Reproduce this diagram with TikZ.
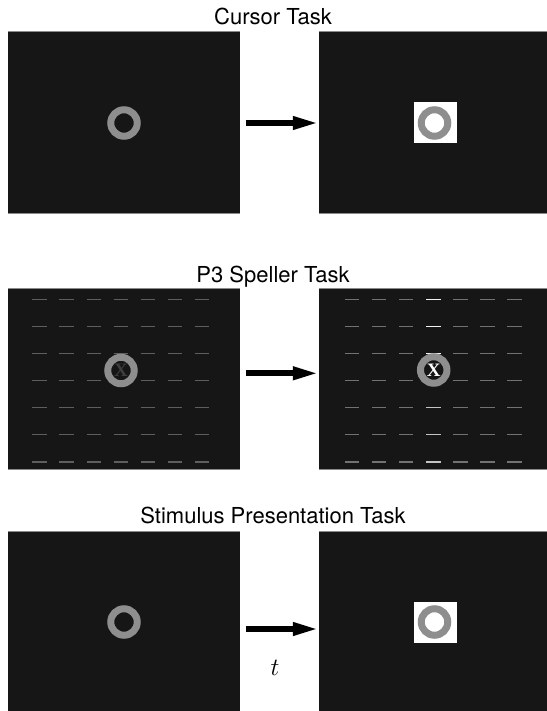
\documentclass[tikz,border=0pt]{standalone}
\usepackage{fontspec}
\setmainfont{TeX Gyre Heros}
\newfontfamily\serifx{Liberation Serif}
\usetikzlibrary{arrows.meta}
\definecolor{screen}{HTML}{161616}
\definecolor{rimgray}{HTML}{8A8A8A}
\definecolor{ringgray}{HTML}{8E8E8E}
\definecolor{cellgray}{HTML}{5E5E5E}
\definecolor{cellgrayb}{HTML}{727272}
\definecolor{cellhi}{HTML}{F2F2F2}
\definecolor{cellmid}{HTML}{C4C4C4}
\definecolor{xdim}{HTML}{3E3E3E}
\tikzset{
  screenbox/.style={fill=screen, draw=none, inner sep=0pt,
    minimum width=232pt, minimum height=181pt},
  rim/.style={draw=rimgray, line width=0.7pt},
  tasktitle/.style={anchor=base, inner sep=0pt, font=\fontsize{22}{26}\selectfont},
  ringmark/.style={circle, draw=ringgray, line width=7pt, inner sep=0pt,
    minimum size=26.5pt, fill=screen},
  flashbox/.style={fill=white, draw=none, inner sep=0pt,
    minimum width=43pt, minimum height=41pt},
  bigarrow/.style={draw=black, line width=5.7pt,
    -{Triangle[length=23pt,width=14.4pt,line width=0pt]}},
  cell/.style={line width=1.6pt},
  letterx/.style={inner sep=0pt, font=\serifx\bfseries\fontsize{19}{19}\selectfont},
  timelabel/.style={anchor=base, inner sep=0pt, font=\fontsize{30}{34}\selectfont}
}
\begin{document}
\begin{tikzpicture}[x=1pt,y=-1pt]
\useasboundingbox (0,0) rectangle (546,711);
\fill[white] (0,0) rectangle (546,711);

% ---------- Cursor task ----------
\node[tasktitle] (title1) at (273,25) {Cursor Task};
\node[screenbox] (c1) at (124,122.5) {};
\node[screenbox] (c2) at (435,122.5) {};
\foreach \p in {c1,c2} {
  \draw[rim] (\p.north west) -- (\p.north east);
  \draw[rim] (\p.south west) -- (\p.south east);
}
\node[ringmark] (cr1) at (124,123) {};
\node[flashbox] (cf2) at (435,122.8) {};
\node[ringmark, fill=white] (cr2) at (434.5,123) {};
\draw[bigarrow] ([xshift=5.5pt,yshift=-0.5pt]c1.east) -- ([xshift=-3pt,yshift=-0.5pt]c2.west);

% ---------- P3 speller task ----------
\node[tasktitle] (title2) at (273,282) {P3 Speller Task};
\node[screenbox] (s1) at (124,379) {};
\node[screenbox] (s2) at (435,379) {};
\foreach \p in {s1,s2} {
  \draw[rim] (\p.north west) -- (\p.north east);
  \draw[rim] (\p.south west) -- (\p.south east);
}
% grid of dashes, left screen
\foreach \i in {0,...,6}
  \foreach \j in {0,...,6}
    \draw[cell, cellgray] (39.5+27.1*\i-7.2, 299.3+27.07*\j) -- ++(14.4,0);
% grid of dashes, right screen with one column flashed
\foreach \i in {0,1,2,4,5,6}
  \foreach \j in {0,...,6}
    \draw[cell, cellgrayb] (352+27.1*\i-7.2, 299.3+27.07*\j) -- ++(14.4,0);
\foreach \j in {0,1,2}
  \draw[cell, cellhi] (433.3-7.2, 299.3+27.07*\j) -- ++(14.4,0);
\foreach \j in {4,5,6}
  \draw[cell, cellmid] (433.3-7.2, 299.3+27.07*\j) -- ++(14.4,0);
\node[ringmark] (sr1) at (121,370.5) {};
\node[letterx, text=xdim] (sx1) at (sr1.center) {X};
\node[ringmark] (sr2) at (433.7,370) {};
\node[letterx, text=white] (sx2) at (sr2.center) {X};
\draw[bigarrow] ([xshift=5.5pt,yshift=5.7pt]s1.east) -- ([xshift=-3pt,yshift=5.7pt]s2.west);

% ---------- Stimulus presentation task ----------
\node[tasktitle] (title3) at (273,523) {Stimulus Presentation Task};
\node[screenbox] (p1) at (124,622) {};
\node[screenbox] (p2) at (435,622) {};
\foreach \p in {p1,p2} {
  \draw[rim] (\p.north west) -- (\p.north east);
}
\node[ringmark] (pr1) at (124,622) {};
\node[flashbox] (pf2) at (435,622) {};
\node[ringmark, fill=white] (pr2) at (434.5,622) {};
\draw[bigarrow] ([xshift=5.5pt,yshift=-7pt]p1.east) -- ([xshift=-3pt,yshift=-7pt]p2.west);
\node[timelabel] (tlab) at (275,675) {$t$};
\end{tikzpicture}
\end{document}
